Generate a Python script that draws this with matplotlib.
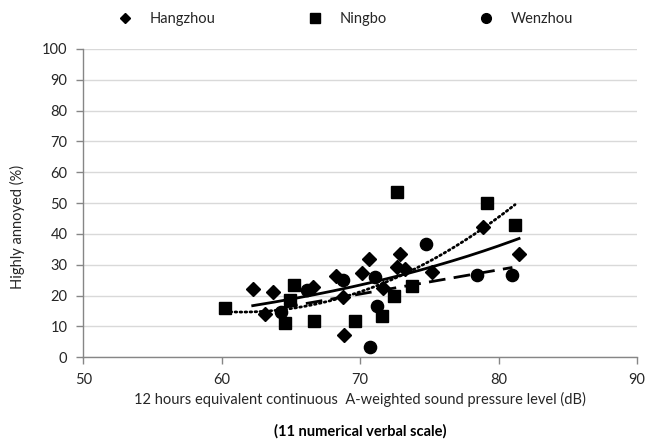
import numpy as np
import matplotlib
matplotlib.use("Agg")
import matplotlib.pyplot as plt
from matplotlib.lines import Line2D

plt.rcParams['font.family'] = ['Lato', 'DejaVu Sans']

# ---- data ----
hangzhou_x = [62.24, 63.73, 63.13, 66.60, 68.26, 68.79, 68.86, 70.16, 70.64, 71.68,
              72.88, 72.69, 73.24, 75.22, 78.86, 81.48]
hangzhou_y = [22.2, 21.1, 14.0, 22.9, 26.4, 19.5, 7.2, 27.4, 31.8, 22.4,
              33.4, 29.4, 28.6, 27.7, 42.2, 33.5]

ningbo_x = [60.24, 64.57, 64.93, 65.22, 66.67, 69.63, 71.60, 72.47, 72.64, 73.77, 79.19, 81.19]
ningbo_y = [15.9, 11.0, 18.6, 23.5, 11.9, 11.9, 13.5, 20.0, 53.5, 23.1, 50.1, 42.9]

wenzhou_x = [64.30, 66.14, 68.79, 71.08, 71.24, 70.72, 74.76, 78.43, 81.00]
wenzhou_y = [14.7, 21.7, 25.1, 25.9, 16.6, 3.4, 36.8, 26.7, 26.7]

series_names = ['Hangzhou', 'Ningbo', 'Wenzhou']
x_ticks = [50, 60, 70, 80, 90]
y_ticks = [0, 10, 20, 30, 40, 50, 60, 70, 80, 90, 100]

W, H = 646, 442
fig = plt.figure(figsize=(W / 100, H / 100), dpi=100)
left, right, top, bottom = 83.3, 637.0, 49.0, 357.3
ax = fig.add_axes([left / W, 1 - bottom / H, (right - left) / W, (bottom - top) / H])

grid_c = '#d9d9d9'
axis_c = '#868686'
txt_c = '#262626'

ax.set_xlim(50, 90)
ax.set_ylim(0, 100)
ax.set_xticks(x_ticks)
ax.set_yticks(y_ticks)
ax.yaxis.grid(True, color=grid_c, lw=1.0)
ax.set_axisbelow(True)
for s in ['top', 'right']:
    ax.spines[s].set_visible(False)
for s in ['left', 'bottom']:
    ax.spines[s].set_color(axis_c)
    ax.spines[s].set_linewidth(1.0)
ax.tick_params(axis='both', direction='out', length=5, width=1, color=axis_c,
               labelsize=10.5, labelcolor=txt_c)
ax.tick_params(axis='y', pad=6.5)
ax.tick_params(axis='x', pad=6)

# scatter
ax.plot(hangzhou_x, hangzhou_y, linestyle='none', marker='D', ms=6.8, color='black', zorder=3)
ax.plot(ningbo_x, ningbo_y, linestyle='none', marker='s', ms=8.6, color='black', zorder=3)
ax.plot(wenzhou_x, wenzhou_y, linestyle='none', marker='o', ms=8.8, color='black', zorder=3)

# trendlines (computed from the series)
hx = np.array(hangzhou_x); hy = np.array(hangzhou_y)
b, a = np.polyfit(hx, np.log(hy), 1)
xs = np.linspace(hx.min(), hx.max(), 200)
ax.plot(xs, np.exp(a) * np.exp(b * xs), color='black', lw=2.0, zorder=4)

nx = np.array(ningbo_x); ny = np.array(ningbo_y)
p2 = np.polyfit(nx, ny, 2)
xs = np.linspace(nx.min(), nx.max(), 200)
ax.plot(xs, np.polyval(p2, xs), color='black', lw=2.0, linestyle=(0, (0.6, 1.2)),
        dash_capstyle='round', zorder=4)

wx = np.array(wenzhou_x); wy = np.array(wenzhou_y)
p1 = np.polyfit(wx, wy, 1)
xs = np.linspace(wx.min(), wx.max(), 200)
ax.plot(xs, np.polyval(p1, xs), color='black', lw=2.0, linestyle=(0, (6, 3)), zorder=4)

# labels
ax.set_xlabel('12 hours equivalent continuous  A-weighted sound pressure level (dB)',
              fontsize=10.5, color=txt_c, labelpad=4)
fig.text(360 / W, 1 - 431 / H, '(11 numerical verbal scale)', fontsize=10.5,
         fontweight='bold', color='black', ha='center', va='center')
fig.text(17 / W, 1 - 227 / H, 'Highly annoyed (%)', rotation=90, fontsize=10.5,
         color=txt_c, ha='center', va='center')

# legend
handles = [Line2D([], [], linestyle='none', marker='D', ms=5.5, color='black'),
           Line2D([], [], linestyle='none', marker='s', ms=7, color='black'),
           Line2D([], [], linestyle='none', marker='o', ms=7, color='black')]
fig.legend(handles, series_names, loc='center', bbox_to_anchor=(342 / W, 1 - 19 / H),
           ncol=3, frameon=False, fontsize=10.5, handlelength=2.0, handletextpad=0.7,
           columnspacing=5.8, labelcolor=txt_c)

fig.savefig('out.png', dpi=100)
